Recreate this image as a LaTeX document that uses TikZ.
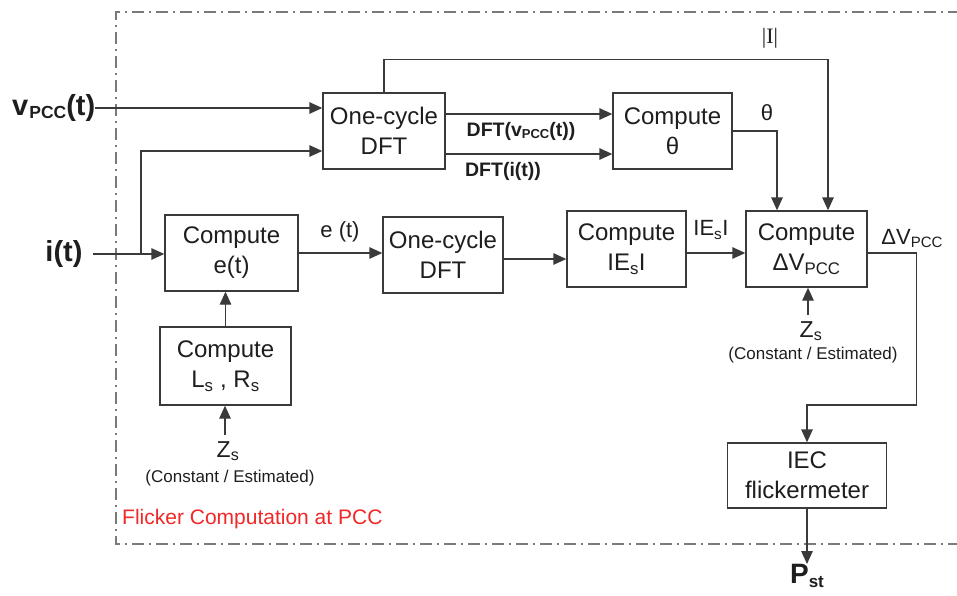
\documentclass[tikz,border=0pt]{standalone}
\usepackage{fontspec}
\setmainfont{Liberation Sans}
\newfontfamily\serifI{Liberation Serif}
\usetikzlibrary{arrows.meta}
\definecolor{lc}{HTML}{3A3A3A}
\definecolor{tc}{HTML}{1E1E1E}
\definecolor{bc}{HTML}{7A7A7A}
\definecolor{rc}{HTML}{F02828}
\begin{document}
\begin{tikzpicture}[x=1pt,y=-1pt,
  blk/.style={draw=lc, line width=1.4pt, align=center, inner sep=0pt, text=tc,
    font=\fontsize{24}{30}\selectfont},
  arr/.style={draw=lc, line width=1.4pt, -{Triangle[length=13pt,width=11.5pt]}},
  wire/.style={draw=lc, line width=1.4pt},
  lbl/.style={inner sep=0pt, text=tc},
  border/.style={draw=bc, line width=1.5pt, dash pattern=on 12pt off 5pt on 2pt off 5pt}]
\useasboundingbox (0,0) rectangle (957,595);
\fill[white] (0,0) rectangle (957,595);
% dashed border (right side open)
\draw[border] (960,12) -- (116,12) -- (116,544) -- (960,544);
% blocks
\node[blk, minimum width=122pt, minimum height=76pt] (dft1) at (384,131) {One-cycle\\DFT};
\node[blk, minimum width=119pt, minimum height=76pt] (theta) at (672.5,131) {Compute\\θ};
\node[blk, minimum width=133pt, minimum height=76pt] (et) at (231.5,253) {Compute\\e(t)};
\node[blk, minimum width=120pt, minimum height=76pt] (dft2) at (443,255) {One-cycle\\DFT};
\node[blk, minimum width=119pt, minimum height=76pt] (es) at (626.5,249) {Compute\\IE\textsubscript{s}I};
\node[blk, minimum width=121pt, minimum height=76pt] (dv) at (806.5,249) {Compute\\ΔV\textsubscript{PCC}};
\node[blk, minimum width=131pt, minimum height=78pt] (lr) at (225.5,366) {Compute\\L\textsubscript{s} , R\textsubscript{s}};
\node[blk, minimum width=159pt, minimum height=65pt] (iec) at (807,475.5) {IEC\\flickermeter};
% inputs / outputs
\node[lbl, anchor=west, font=\bfseries\fontsize{29}{29}\selectfont] (vin) at (12,108)
  {v\kern1pt\raisebox{-3pt}{\fontsize{17.5}{17.5}\selectfont PCC}(t)};
\node[lbl, font=\bfseries\fontsize{29}{29}\selectfont] (iin) at (64,254) {i(t)};
\node[lbl, anchor=north, font=\bfseries\fontsize{28}{28}\selectfont] (pst) at (807,564)
  {P\raisebox{-4pt}{\fontsize{17}{17}\selectfont st}};
\coordinate (br) at (141,254);
% labels
\node[lbl, font=\serifI\fontsize{22}{22}\selectfont] (lI) at (770,38) {|I|};
\node[lbl, font=\fontsize{22}{22}\selectfont] (lth) at (767,113) {θ};
\node[lbl, font=\bfseries\fontsize{19.5}{19.5}\selectfont] (ldv) at (521,131) {DFT(v\raisebox{-2pt}{\fontsize{13}{13}\selectfont PCC}(t))};
\node[lbl, font=\bfseries\fontsize{19.5}{19.5}\selectfont] (ldi) at (503,171) {DFT(i(t))};
\node[lbl, font=\fontsize{22}{22}\selectfont] (le) at (340,232) {e (t)};
\node[lbl, font=\fontsize{22}{22}\selectfont] (les) at (711,230) {IE\textsubscript{s}I};
\node[lbl, font=\fontsize{22}{22}\selectfont] (ldvo) at (912,238) {ΔV\raisebox{-3pt}{\fontsize{15}{15}\selectfont PCC}};
\node[lbl, anchor=north, font=\fontsize{23}{23}\selectfont] (zs2) at (811,321) {Z\textsubscript{s}};
\node[lbl, font=\fontsize{17}{17}\selectfont] (ce2) at (813,355) {(Constant / Estimated)};
\node[lbl, anchor=north, font=\fontsize{23}{23}\selectfont] (zs1) at (228,441) {Z\textsubscript{s}};
\node[lbl, font=\fontsize{17}{17}\selectfont] (ce1) at (230,478) {(Constant / Estimated)};
\node[lbl, anchor=west, text=rc, font=\fontsize{21}{21}\selectfont] (title) at (122,519) {Flicker Computation at PCC};
% connectors
\draw[arr] (vin.east) -- (vin.east -| dft1.west);
\draw[arr] ([xshift=10pt]iin.east) -- (iin.east -| et.west);
\draw[arr] (br) |- ([yshift=-20pt]dft1.west);
\draw[arr] (dft1.north) -- ++(0,-33) -| ([xshift=21.5pt]dv.north);
\draw[arr] ([yshift=17pt]dft1.east) -- ([yshift=17pt]theta.west);
\draw[arr] ([yshift=-23pt]dft1.east) -- ([yshift=-23pt]theta.west);
\draw[arr] (theta.east) -| ([xshift=-29.5pt]dv.north);
\draw[arr] (et.east) -- (et.east -| dft2.west);
\draw[arr] ([yshift=-4pt]dft2.east) -- ([yshift=-4pt]dft2.east -| es.west);
\draw[arr] ([yshift=-4pt]es.east) -- ([yshift=-4pt]dv.west);
\draw[arr] ([yshift=-4pt]dv.east) -- ++(49,0) -- ++(0,152) -| (iec.north);
\draw[arr] (iec.south) -- (pst.north);
\draw[arr] (lr.north) -- (lr.north |- et.south);
\draw[arr] ([xshift=-3pt,yshift=6pt]zs1.north) -- ([xshift=-3pt]zs1.north |- lr.south);
\draw[arr] ([xshift=-3pt,yshift=6pt]zs2.north) -- ([xshift=-3pt]zs2.north |- dv.south);
\end{tikzpicture}
\end{document}
